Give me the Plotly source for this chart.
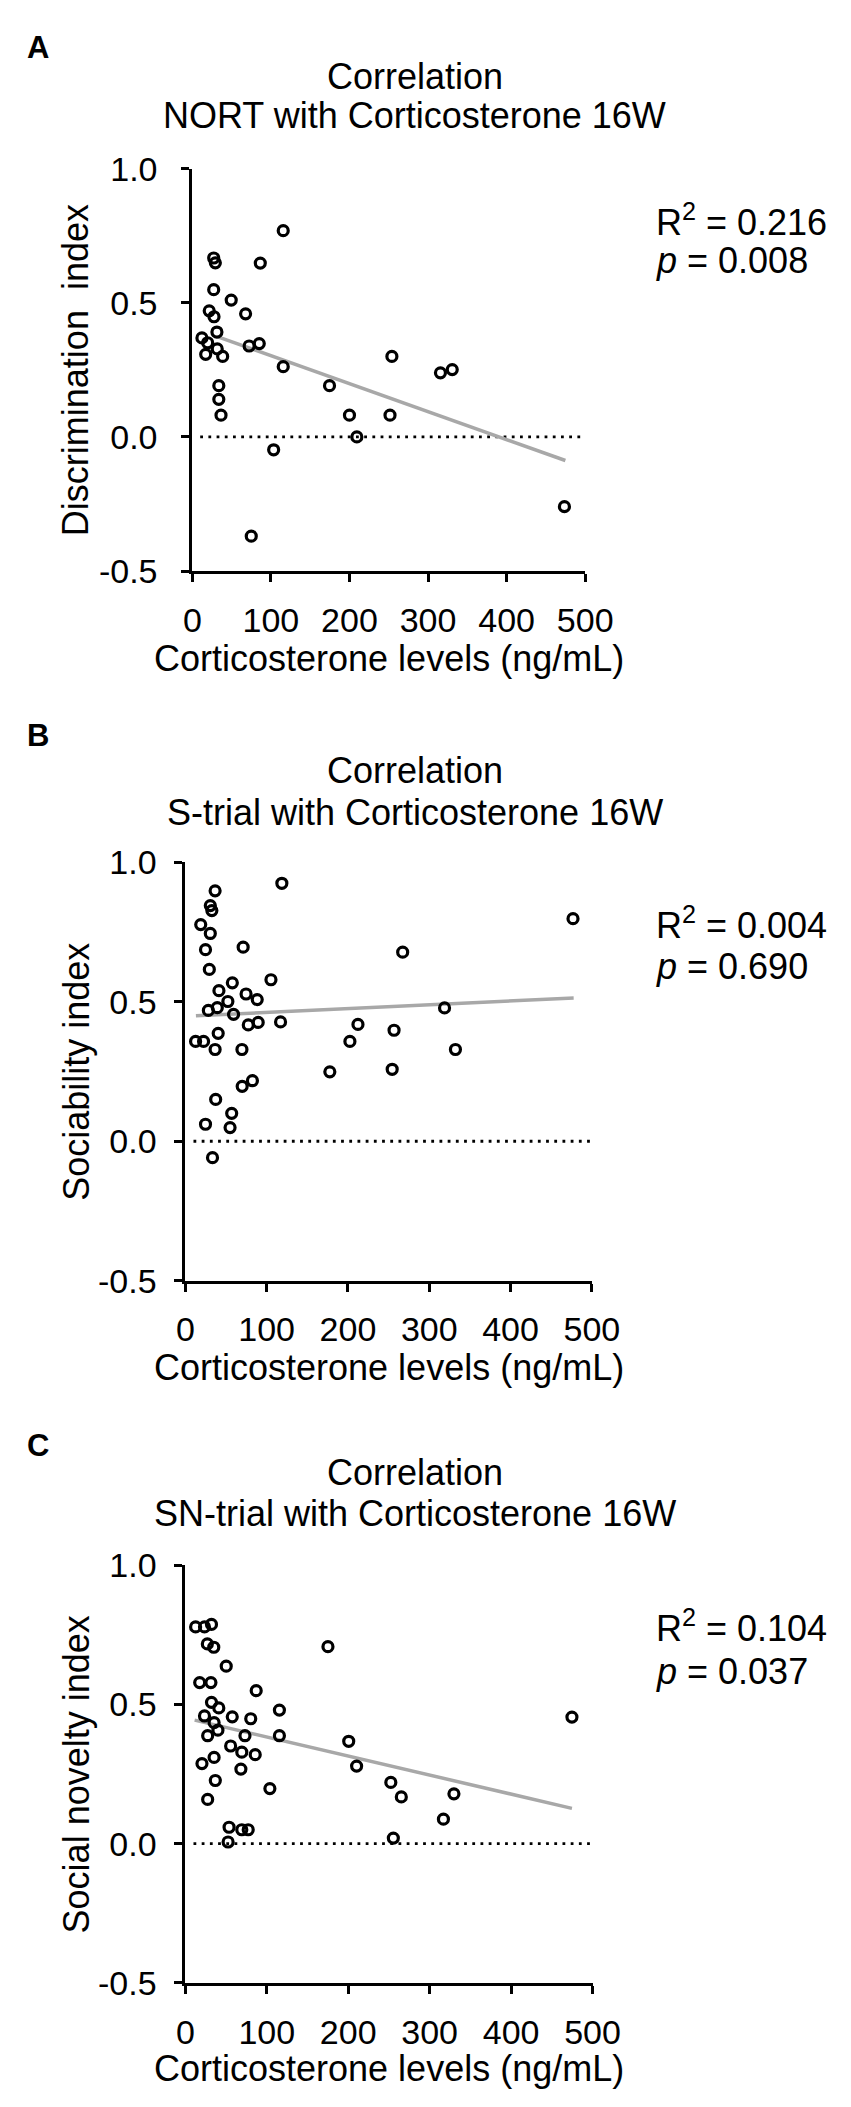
"""Three corticosterone correlation scatter panels (A, B, C) stacked vertically."""

import plotly.graph_objects as go

# ── Data ────────────────────────────────────────────────────────────

# Panel A: NORT discrimination index vs corticosterone
a_cort = [115.7, 27.2, 29.3, 86.5, 27.2, 49.5, 67.8, 21.5, 27.6, 31.3, 12.2,
          19.5, 72.3, 85.2, 31.7, 17.0, 38.6, 115.7, 254.0, 315.8, 330.8,
          174.6, 33.7, 33.7, 36.5, 200.0, 251.6, 209.4, 103.5, 75.0, 473.6]
a_index = [0.769, 0.667, 0.649, 0.648, 0.549, 0.510, 0.459, 0.470, 0.448,
           0.391, 0.369, 0.351, 0.339, 0.348, 0.328, 0.308, 0.300, 0.262,
           0.300, 0.239, 0.251, 0.191, 0.191, 0.140, 0.081, 0.081, 0.081,
           0.0, -0.048, -0.37, -0.26]
a_fit_x = [32.6, 474.8]
a_fit_y = [0.373, -0.088]

# Panel B: S-trial sociability index vs corticosterone
b_cort = [118.7, 36.6, 30.7, 32.6, 18.9, 30.7, 24.8, 71.1, 267.3, 29.5,
          105.3, 57.8, 41.3, 74.7, 88.4, 52.3, 28.3, 39.3, 59.3, 318.8,
          77.4, 89.6, 117.1, 212.3, 256.7, 40.4, 12.6, 22.4, 202.4, 36.6,
          69.6, 332.2, 177.7, 254.4, 69.9, 82.5, 37.3, 57.0, 55.0, 24.8,
          33.4, 476.8]
b_index = [0.925, 0.898, 0.845, 0.827, 0.777, 0.745, 0.687, 0.696, 0.678,
           0.616, 0.579, 0.568, 0.540, 0.528, 0.508, 0.501, 0.469, 0.479,
           0.455, 0.478, 0.417, 0.426, 0.428, 0.419, 0.398, 0.387, 0.358,
           0.358, 0.358, 0.329, 0.329, 0.329, 0.249, 0.258, 0.197, 0.217,
           0.150, 0.100, 0.049, 0.061, -0.059, 0.798]
b_fit_x = [13.0, 477.6]
b_fit_y = [0.450, 0.514]

# Panel C: SN-trial social novelty index vs corticosterone
c_cort = [12.6, 23.5, 32.1, 27.0, 34.9, 175.1, 50.2, 17.6, 31.4, 87.0,
          32.1, 41.1, 115.5, 23.5, 57.6, 80.3, 35.3, 40.0, 27.4, 73.2,
          115.5, 200.6, 55.6, 69.3, 85.8, 35.3, 20.4, 210.3, 68.2, 36.8,
          252.3, 103.8, 265.2, 329.8, 27.4, 316.9, 53.7, 52.5, 69.3, 77.2,
          255.4, 474.7]
c_index = [0.779, 0.779, 0.788, 0.718, 0.706, 0.708, 0.638, 0.579, 0.579,
           0.550, 0.508, 0.488, 0.480, 0.459, 0.456, 0.449, 0.435, 0.408,
           0.388, 0.388, 0.388, 0.368, 0.351, 0.329, 0.320, 0.310, 0.288,
           0.279, 0.268, 0.227, 0.220, 0.198, 0.168, 0.179, 0.159, 0.088,
           0.059, 0.006, 0.050, 0.050, 0.020, 0.455]
c_fit_x = [11.4, 474.7]
c_fit_y = [0.444, 0.127]

zero_line_x = [10, 500]
zero_line_y = [0, 0]

x_ticks = [0, 100, 200, 300, 400, 500]
y_ticks = [-0.5, 0.0, 0.5, 1.0]
y_tick_labels = ["-0.5", "0.0", "0.5", "1.0"]

panel_letters = ["A", "B", "C"]
panel_subtitles = [
    "NORT with Corticosterone 16W",
    "S-trial with Corticosterone 16W",
    "SN-trial with Corticosterone 16W",
]
y_titles = ["Discrimination  index", "Sociability index", "Social novelty index"]
r2_values = ["0.216", "0.004", "0.104"]
p_values = ["0.008", "0.690", "0.037"]

X_TITLE = "Corticosterone levels (ng/mL)"

# ── Layout (pixel geometry of each panel) ───────────────────────────

W, H = 851, 2107
FONT = "Liberation Sans, Arial, sans-serif"

# x0/x1: axis ends, top/bot: y=1.0 / y=-0.5, then text rows
PANELS = [
    dict(x0=183.3, x1=594.0, top=144.3, bot=554.0, letter=21, t1=50, t2=90,
         r2=197, p=238, xtitle=643, standoff=17),
    dict(x0=176.0, x1=601.0, top=850.7, bot=1276.7, letter=722, t1=757,
         t2=800, r2=912, p=957, xtitle=1365, standoff=11),
    dict(x0=176.0, x1=601.7, top=1566.7, bot=1991.7, letter=1445, t1=1472,
         t2=1514, r2=1628, p=1675, xtitle=2079, standoff=11),
]


def px(x: float) -> float:
    return x / W


def py(y: float) -> float:
    return 1 - y / H


def _text(x, y, text, size, **kw):
    return dict(
        x=px(x), y=py(y), xref="paper", yref="paper", text=text,
        showarrow=False, font=dict(family=FONT, size=size, color="black"),
        yanchor="middle", **kw,
    )


fig = go.Figure()
annotations = []

series = [
    (a_cort, a_index, a_fit_x, a_fit_y),
    (b_cort, b_index, b_fit_x, b_fit_y),
    (c_cort, c_index, c_fit_x, c_fit_y),
]

for i, (geo, (xs, ys, fx, fy)) in enumerate(zip(PANELS, series), start=1):
    xa, ya = f"x{i}", f"y{i}"

    # dotted zero reference
    fig.add_trace(go.Scatter(
        x=zero_line_x, y=zero_line_y, mode="lines", xaxis=xa, yaxis=ya,
        line=dict(color="black", width=2.8, dash="2.8px,5.4px"),
        hoverinfo="skip", showlegend=False,
    ))
    # regression line
    fig.add_trace(go.Scatter(
        x=fx, y=fy, mode="lines", xaxis=xa, yaxis=ya,
        line=dict(color="#a8a8a8", width=3.5),
        hoverinfo="skip", showlegend=False,
    ))
    # data points
    fig.add_trace(go.Scatter(
        x=xs, y=ys, mode="markers", xaxis=xa, yaxis=ya,
        marker=dict(symbol="circle-open", size=10,
                    color="black", line=dict(color="black", width=3.2)),
        showlegend=False,
    ))

    axis_common = dict(
        showline=True, linewidth=3, linecolor="black",
        ticks="outside", ticklen=8, tickwidth=3, tickcolor="black",
        showgrid=False, zeroline=False,
        tickfont=dict(family=FONT, size=34, color="black"),
    )
    suffix = "" if i == 1 else str(i)
    fig.update_layout({
        f"xaxis{suffix}": dict(
            axis_common, domain=[px(geo["x0"]), px(geo["x1"])],
            range=[0, 500], tickvals=x_ticks, anchor=ya,
            ticklabelstandoff=9,
        ),
        f"yaxis{suffix}": dict(
            axis_common, domain=[py(geo["bot"]), py(geo["top"])],
            range=[-0.5, 1.0], tickvals=y_ticks, ticktext=y_tick_labels,
            anchor=xa, ticklabelstandoff=geo["standoff"],
        ),
    })

    k = i - 1
    annotations += [
        _text(8, geo["letter"], f"<b>{panel_letters[k]}</b>", 31,
              xanchor="left"),
        _text(416, geo["t1"], "Correlation", 36, xanchor="center"),
        _text(416, geo["t2"], panel_subtitles[k], 36, xanchor="center"),
        _text(666, geo["r2"], f"R<sup>2</sup> = {r2_values[k]}", 36,
              xanchor="left"),
        _text(666, geo["p"], f"<i>p</i> = {p_values[k]}", 36,
              xanchor="left"),
        _text((geo["x0"] + geo["x1"]) / 2, geo["xtitle"], X_TITLE, 36,
              xanchor="center"),
        _text(62, (geo["top"] + geo["bot"]) / 2, y_titles[k], 36,
              xanchor="center", textangle=-90),
    ]

fig.update_layout(
    width=W,
    height=H,
    margin=dict(l=0, r=0, t=0, b=0),
    paper_bgcolor="white",
    plot_bgcolor="white",
    annotations=annotations,
    showlegend=False,
)

fig.write_html("out.html")
